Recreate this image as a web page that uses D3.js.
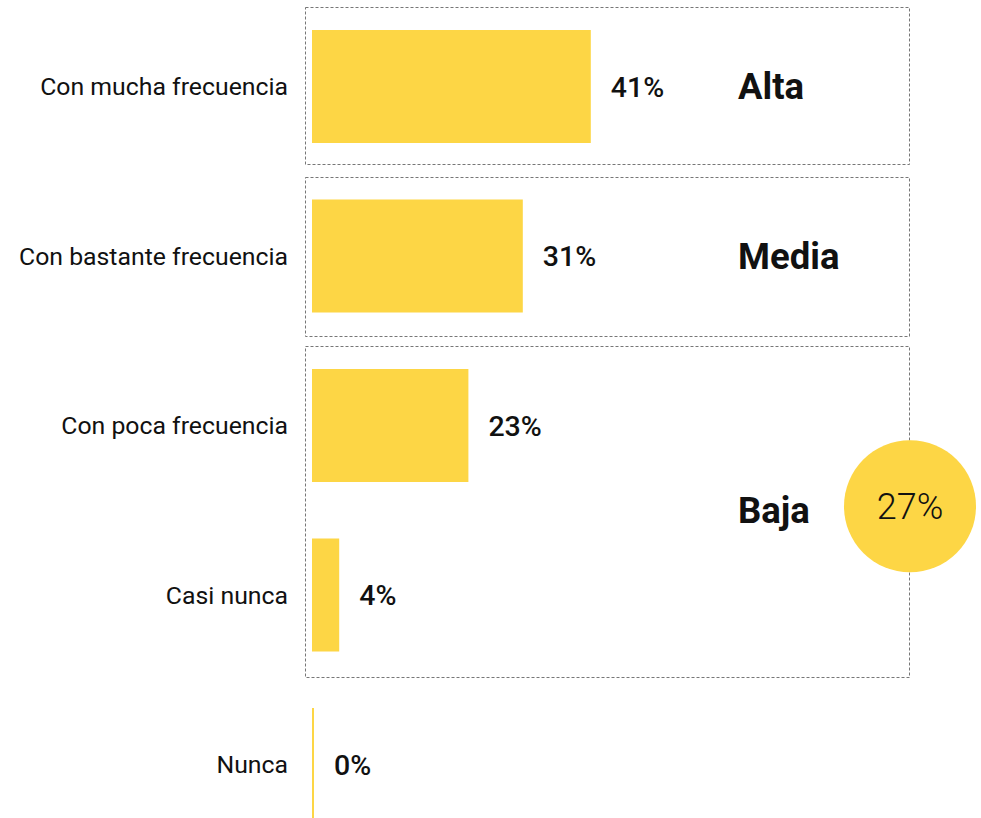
<!DOCTYPE html>
<html>
<head>
<meta charset="utf-8">
<script src="https://cdn.jsdelivr.net/npm/d3@7"></script>
<style>
  html, body { margin: 0; padding: 0; background: #fff; overflow: hidden; }
  svg { display: block; font-family: Roboto, sans-serif; }
</style>
</head>
<body>
<svg id="chart" width="981" height="818"></svg>
<script>
// respuestas y porcentajes
var categories = ['Con mucha frecuencia', 'Con bastante frecuencia', 'Con poca frecuencia', 'Casi nunca', 'Nunca'];
var values = [41, 31, 23, 4, 0];

// grupos (cajas punteadas)
var groupNames = ['Alta', 'Media', 'Baja'];
var groupMembers = [[0], [1], [2, 3]];
var groupTotals = [null, null, 27];

var width = 981, height = 818;
var yellow = '#fdd645';

var svg = d3.select('#chart');

var x = d3.scaleLinear().domain([0, 100]).range([312, 992]);
var y = d3.scaleBand()
    .domain(categories)
    .range([30, 821])
    .paddingInner(1 / 3)
    .paddingOuter(0);

var bw = y.bandwidth();

// cajas de grupo
var boxes = svg.append('g');
groupMembers.forEach(function (m, i) {
    var top = y(categories[m[0]]) - 23;
    var bottom = y(categories[m[m.length - 1]]) + bw + 21 + i * 2;
    boxes.append('rect')
        .attr('x', 305.5)
        .attr('y', Math.round(top) + 0.5)
        .attr('width', 604)
        .attr('height', Math.round(bottom - top))
        .attr('fill', 'none')
        .attr('stroke', '#777')
        .attr('stroke-width', 1)
        .attr('stroke-dasharray', '3,2');
});

// barras
svg.append('g').selectAll('rect')
    .data(values)
    .enter()
    .append('rect')
    .attr('x', x(0))
    .attr('y', function (d, i) { return y(categories[i]); })
    .attr('height', bw)
    .attr('width', function (d) { return Math.max(2, x(d) - x(0)); })
    .attr('fill', yellow);

// etiquetas de categorias
svg.append('g').selectAll('text')
    .data(categories)
    .enter()
    .append('text')
    .attr('x', 288)
    .attr('y', function (d) { return y(d) + bw / 2 + 8.5; })
    .attr('text-anchor', 'end')
    .attr('font-size', 24.8)
    .attr('fill', '#111')
    .text(function (d) { return d; });

// valores
svg.append('g').selectAll('text')
    .data(values)
    .enter()
    .append('text')
    .attr('x', function (d) { return x(0) + Math.max(2, x(d) - x(0)) + 20; })
    .attr('y', function (d, i) { return y(categories[i]) + bw / 2 + 10; })
    .attr('font-size', 28.5)
    .attr('font-weight', 500)
    .attr('fill', '#111')
    .text(function (d) { return d + '%'; });

// nombres de grupo y circulo
groupMembers.forEach(function (m, i) {
    var top = y(categories[m[0]]);
    var bottom = y(categories[m[m.length - 1]]) + bw;
    var cy = (top + bottom) / 2;
    svg.append('text')
        .attr('x', 738)
        .attr('y', cy + 12.5)
        .attr('font-size', 36.5)
        .attr('font-weight', 700)
        .attr('fill', '#111')
        .text(groupNames[i]);
    if (groupTotals[i] !== null) {
        svg.append('circle')
            .attr('cx', 910)
            .attr('cy', cy - 4)
            .attr('r', 66)
            .attr('fill', yellow);
        svg.append('text')
            .attr('x', 910)
            .attr('y', cy - 4 + 12.5)
            .attr('text-anchor', 'middle')
            .attr('font-size', 36)
            .attr('font-weight', 300)
            .attr('fill', '#111')
            .text(groupTotals[i] + '%');
    }
});
</script>
</body>
</html>
